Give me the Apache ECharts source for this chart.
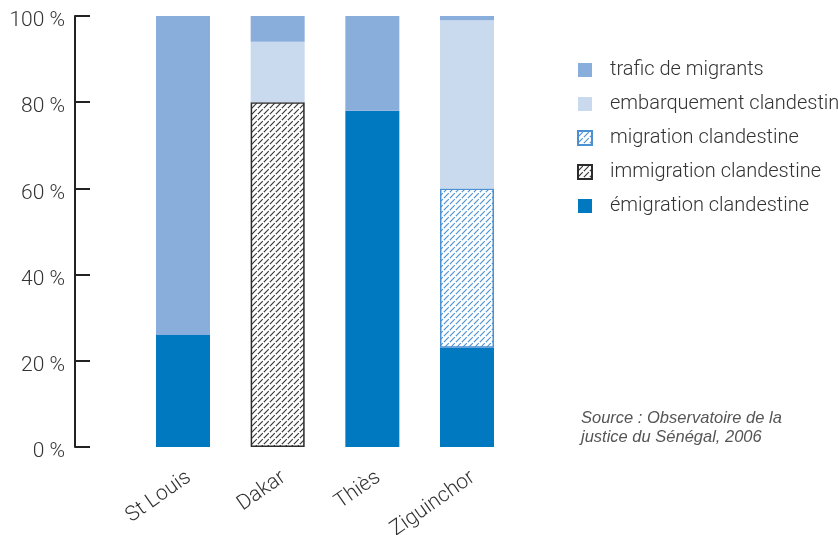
<!DOCTYPE html>
<html>
<head>
<meta charset="utf-8">
<script src="https://cdn.jsdelivr.net/npm/echarts@6/dist/echarts.min.js"></script>
<style>
  html, body { margin: 0; padding: 0; background: #fff; }
  #chart { width: 838px; height: 535px; }
</style>
</head>
<body>
<div id="chart"></div>
<script>
// Régions et parts (%) par type d'infraction
const regions = ['St Louis', 'Dakar', 'Thiès', 'Ziguinchor'];
const emigration = [26, 0, 78, 23];
const immigration = [0, 80, 0, 0];
const migration = [0, 0, 0, 37];
const embarquement = [0, 14, 0, 39];
const trafic = [74, 6, 22, 1];
const yTicks = [0, 20, 40, 60, 80, 100];

const FONT = 'Roboto';

// Hachures diagonales en motif répété
function hatch(lineColor, step) {
  const c = document.createElement('canvas');
  c.width = step; c.height = step;
  const g = c.getContext('2d');
  g.fillStyle = '#fff';
  g.fillRect(0, 0, step, step);
  g.strokeStyle = lineColor;
  g.lineWidth = 1.1;
  const diag = Math.SQRT2 * step;
  g.setLineDash([diag * 0.8, diag * 0.2]);
  g.beginPath();
  g.moveTo(0, step); g.lineTo(step, 0);
  g.stroke();
  g.setLineDash([]);
  g.beginPath();
  g.moveTo(-1, 1); g.lineTo(1, -1);
  g.moveTo(step - 1, step + 1); g.lineTo(step + 1, step - 1);
  g.stroke();
  return { image: c, repeat: 'repeat' };
}

const hatchDark = hatch('#333333', 6);
const hatchBlue = hatch('#4a90d2', 6);

const nz = arr => arr.map(v => (v === 0 ? '-' : v));

const chart = echarts.init(document.getElementById('chart'), null, { renderer: 'canvas' });

const base = { type: 'bar', stack: 'total', barWidth: 54 };

chart.setOption({
  animation: false,
  grid: {
    left: 135.67, width: 378.67, top: 16, bottom: 88,
    containLabel: false, outerBoundsMode: 'none'
  },
  legend: {
    orient: 'vertical',
    left: 577,
    top: 60,
    padding: 0,
    itemWidth: 14,
    itemHeight: 14,
    itemGap: 14,
    icon: 'rect',
    textStyle: { fontFamily: FONT, fontWeight: 300, fontSize: 20, color: '#333', padding: [0, 0, 0, 13] },
    data: ['trafic de migrants', 'embarquement clandestin', 'migration clandestine', 'immigration clandestine', 'émigration clandestine']
  },
  xAxis: {
    type: 'category',
    data: regions,
    axisLine: { show: false },
    axisTick: { show: false },
    axisLabel: {
      rotate: 35,
      margin: 20,
      verticalAlign: 'top',
      fontFamily: FONT,
      fontWeight: 300,
      fontSize: 21,
      color: '#333'
    }
  },
  yAxis: {
    type: 'value',
    min: 0,
    max: 100,
    interval: 20,
    offset: 60.67,
    splitLine: { show: false },
    axisLine: { show: true, lineStyle: { color: '#222', width: 2 } },
    axisTick: { show: true, inside: true, length: 15, lineStyle: { color: '#222', width: 2 } },
    axisLabel: {
      margin: 10,
      verticalAlign: 'top',
      lineHeight: 10,
      fontFamily: FONT,
      fontWeight: 300,
      fontSize: 21,
      color: '#333',
      formatter: v => (yTicks.includes(v) ? v + ' %' : '')
    }
  },
  series: [
    Object.assign({}, base, {
      name: 'émigration clandestine',
      data: nz(emigration),
      itemStyle: { color: '#0079c1' }
    }),
    Object.assign({}, base, {
      name: 'immigration clandestine',
      data: nz(immigration),
      itemStyle: { color: hatchDark, borderColor: '#2b2b2b', borderWidth: 1.5 }
    }),
    Object.assign({}, base, {
      name: 'migration clandestine',
      data: nz(migration),
      itemStyle: { color: hatchBlue, borderColor: '#4a90d2', borderWidth: 1.5 }
    }),
    Object.assign({}, base, {
      name: 'embarquement clandestin',
      data: nz(embarquement),
      itemStyle: { color: '#c9d9ee' }
    }),
    Object.assign({}, base, {
      name: 'trafic de migrants',
      data: nz(trafic),
      itemStyle: { color: '#8aaedc' }
    })
  ],
  graphic: [
    {
      type: 'text',
      left: 581,
      top: 409,
      style: {
        text: 'Source : Observatoire de la\njustice du Sénégal, 2006',
        fontFamily: 'Liberation Sans',
        fontStyle: 'italic',
        fontSize: 16.5,
        lineHeight: 19,
        fill: '#555'
      }
    }
  ]
});
</script>
</body>
</html>
